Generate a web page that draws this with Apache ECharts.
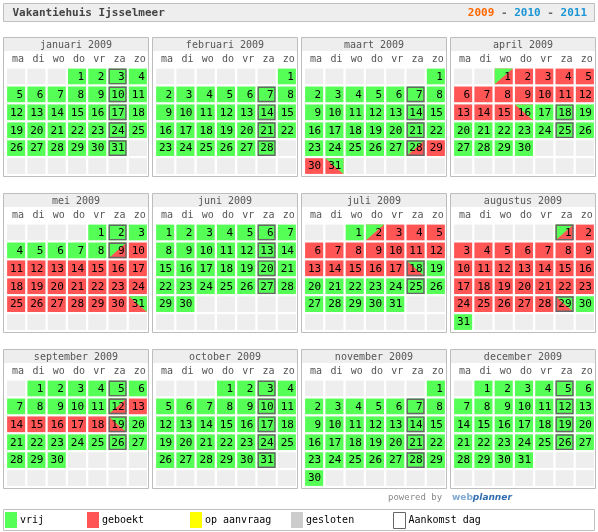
<!DOCTYPE html>
<html><head><meta charset="utf-8">
<script src="https://cdn.jsdelivr.net/npm/echarts@6/dist/echarts.min.js"></script>
<style>html,body{margin:0;padding:0;background:#fff}#c{width:598px;height:532px}</style>
</head><body><div id="c"></div>
<script>
// ---- data ----
const year = 2009;
const title = 'Vakantiehuis Ijsselmeer';
const years = ['2009', '2010', '2011'];
const monthNames = ['januari','februari','maart','april','mei','juni','juli','augustus','september','october','november','december'];
const dayNames = ['ma','di','wo','do','vr','za','zo'];
// one code per day (groups of 10 days): v = vrij, b = geboekt, a = aankomst (vrij -> geboekt), d = vertrek (geboekt -> vrij)
const jan = "vvvvvvvvvv vvvvvvvvvv vvvvvvvvvvv";
const feb = "vvvvvvvvvv vvvvvvvvvv vvvvvvvv";
const mar = "vvvvvvvvvv vvvvvvvvvv vvvvvvvabbd";
const apr = "abbbbbbbbb bbbbbdvvvv vvvvvvvvvv";
const may = "vvvvvvvvab bbbbbbbbbb bbbbbbbbbbd";
const jun = "vvvvvvvvvv vvvvvvvvvv vvvvvvvvvv";
const jul = "vabbbbbbbb bbbbbbbdvv vvvvvvvvvvv";
const aug = "abbbbbbbbb bbbbbbbbbb bbbbbbbbdvv";
const sep = "vvvvvvvvvv vabbbbbbdv vvvvvvvvvv";
const oct = "vvvvvvvvvv vvvvvvvvvv vvvvvvvvvvv";
const nov = "vvvvvvvvvv vvvvvvvvvv vvvvvvvvvv";
const dec = "vvvvvvvvvv vvvvvvvvvv vvvvvvvvvvv";
const monthStatus = [jan, feb, mar, apr, may, jun, jul, aug, sep, oct, nov, dec];
const arrivalWeekday = 5; // za
const legendNames = ['vrij','geboekt','op aanvraag','gesloten','Aankomst dag'];

// ---- style ----
const FONT = "'DejaVu Sans Mono', monospace";
const GREEN = '#55ff55', RED = '#ff5555', YELLOW = '#ffff00', GREY = '#cccccc', EMPTY = '#eeeeee';
const legendColors = [GREEN, RED, YELLOW, GREY, '#ffffff'];
const legendX = [5, 87, 190, 291, 393];
const panelX = [3, 152, 301, 450], panelY = [37, 193, 349], PW = 145, PH = 139;
const codeIdx = {v: 1, b: 2, a: 3, d: 4};

function renderItem(params, api) {
  const col = api.value(0), row = api.value(1), day = api.value(2), st = api.value(3);
  const p = api.coord([col, row]);
  const sz = api.size([1, 1]);
  const w = sz[0] - 2.2, h = sz[1] - 2.2;
  const x = p[0] - w / 2, y = p[1] - h / 2;
  const ch = [];
  if (st <= 2) {
    ch.push({type: 'rect', shape: {x, y, width: w, height: h}, style: {fill: [EMPTY, GREEN, RED][st]}});
  } else if (st === 3) {
    ch.push({type: 'rect', shape: {x, y, width: w, height: h}, style: {fill: RED}});
    ch.push({type: 'polygon', shape: {points: [[x, y], [x + w, y], [x, y + h]]}, style: {fill: GREEN}});
  } else {
    ch.push({type: 'rect', shape: {x, y, width: w, height: h}, style: {fill: RED}});
    ch.push({type: 'polygon', shape: {points: [[x, y], [x + w, y], [x + w, y + h]]}, style: {fill: GREEN}});
  }
  if (day > 0 && col === arrivalWeekday && st !== 2) {
    ch.push({type: 'rect', shape: {x: x + 0.7, y: y + 0.7, width: w - 1.4, height: h - 1.4},
      style: {fill: null, stroke: '#666', lineWidth: 1.4}});
  }
  if (day > 0) {
    ch.push({type: 'text', style: {text: String(day), x: x + w - 2, y: p[1] + 0.5,
      align: 'right', verticalAlign: 'middle', font: '11px ' + FONT, fill: '#000'}});
  }
  return {type: 'group', children: ch};
}

const grids = [], xAxes = [], yAxes = [], series = [], graphics = [], legends = [];

// title bar
graphics.push({type: 'rect', z: 0, shape: {x: 3.5, y: 3.5, width: 591, height: 18}, style: {fill: '#eeeeee', stroke: '#c0c0c0', lineWidth: 1}});
graphics.push({type: 'text', z: 1, style: {text: title, x: 12.5, y: 13, verticalAlign: 'middle', font: 'bold 11px ' + FONT, fill: '#444'}});
graphics.push({type: 'text', z: 1, style: {
  text: '{o|' + years[0] + '}{g| - }{b|' + years[1] + '}{g| - }{b|' + years[2] + '}',
  x: 587, y: 13, align: 'right', verticalAlign: 'middle',
  rich: {o: {fill: '#ff6600', font: 'bold 11px ' + FONT}, g: {fill: '#666', font: 'bold 11px ' + FONT}, b: {fill: '#1a95d5', font: 'bold 11px ' + FONT}}
}});
// footer
graphics.push({type: 'text', z: 1, style: {text: 'powered by', x: 388, y: 498, verticalAlign: 'middle', font: '9px ' + FONT, fill: '#888'}});
graphics.push({type: 'text', z: 1, style: {text: '{w|web}{p|planner}', x: 452, y: 498, verticalAlign: 'middle',
  rich: {w: {fill: '#7fa9d2', font: 'bold 9px "DejaVu Sans"'}, p: {fill: '#2f6db0', font: 'bold italic 9px "DejaVu Sans"'}}}});
graphics.push({type: 'rect', z: 0, shape: {x: 3.5, y: 509.5, width: 591, height: 21}, style: {fill: '#fff', stroke: '#c0c0c0', lineWidth: 1}});

monthStatus.forEach((codes, m) => {
  const s = codes.replace(/ /g, '');
  const c = m % 4, r = Math.floor(m / 4);
  const px = panelX[c], py = panelY[r];
  graphics.push({type: 'rect', z: 0, shape: {x: px + 0.5, y: py + 0.5, width: PW, height: PH}, style: {fill: '#fff', stroke: '#bdbdbd', lineWidth: 1}});
  graphics.push({type: 'rect', z: 0, shape: {x: px + 1, y: py + 1, width: PW - 1, height: 13}, style: {fill: '#eeeeee'}});
  graphics.push({type: 'text', z: 1, style: {text: monthNames[m] + ' ' + year, x: px + PW / 2 + 0.5, y: py + 8,
    align: 'center', verticalAlign: 'middle', font: '10px ' + FONT, fill: '#555'}});

  grids.push({left: px + 3, top: py + 30.5, width: 142, height: 107.5});
  xAxes.push({type: 'category', gridIndex: m, data: dayNames, position: 'top',
    axisLine: {show: false}, axisTick: {show: false}, splitLine: {show: false},
    axisLabel: {interval: 0, margin: 3, formatter: v => '{a|' + v + '}',
      rich: {a: {width: 16, align: 'right', fontFamily: FONT, fontSize: 10, color: '#555'}}}});
  yAxes.push({type: 'category', gridIndex: m, data: ['1','2','3','4','5','6'], inverse: true, show: false});

  const first = (new Date(year, m, 1).getDay() + 6) % 7;
  const data = [];
  for (let k = 0; k < 42; k++) {
    const col = k % 7, row = Math.floor(k / 7), d = k - first + 1;
    const inMonth = d >= 1 && d <= s.length;
    data.push([col, row, inMonth ? d : 0, inMonth ? codeIdx[s[d - 1]] : 0]);
  }
  series.push({type: 'custom', name: monthNames[m], xAxisIndex: m, yAxisIndex: m, data, renderItem, silent: true});
});

legendNames.forEach((n, i) => {
  series.push({type: 'bar', name: n, xAxisIndex: 0, yAxisIndex: 0, data: [],
    itemStyle: {color: legendColors[i], borderColor: i === 4 ? '#666' : legendColors[i], borderWidth: i === 4 ? 1 : 0}});
  legends.push({data: [n], left: legendX[i], top: 512, padding: 0, itemWidth: 12, itemHeight: 16, icon: 'rect',
    selectedMode: false, itemStyle: {color: legendColors[i], borderColor: i === 4 ? '#666' : legendColors[i], borderWidth: i === 4 ? 1 : 0},
    textStyle: {fontFamily: FONT, fontSize: 10, color: '#000', padding: [0, 0, 0, -2]}});
});

const chart = echarts.init(document.getElementById('c'), null, {renderer: 'canvas'});
chart.setOption({
  animation: false,
  backgroundColor: '#fff',
  grid: grids, xAxis: xAxes, yAxis: yAxes, series, legend: legends, graphic: graphics
});
</script></body></html>
